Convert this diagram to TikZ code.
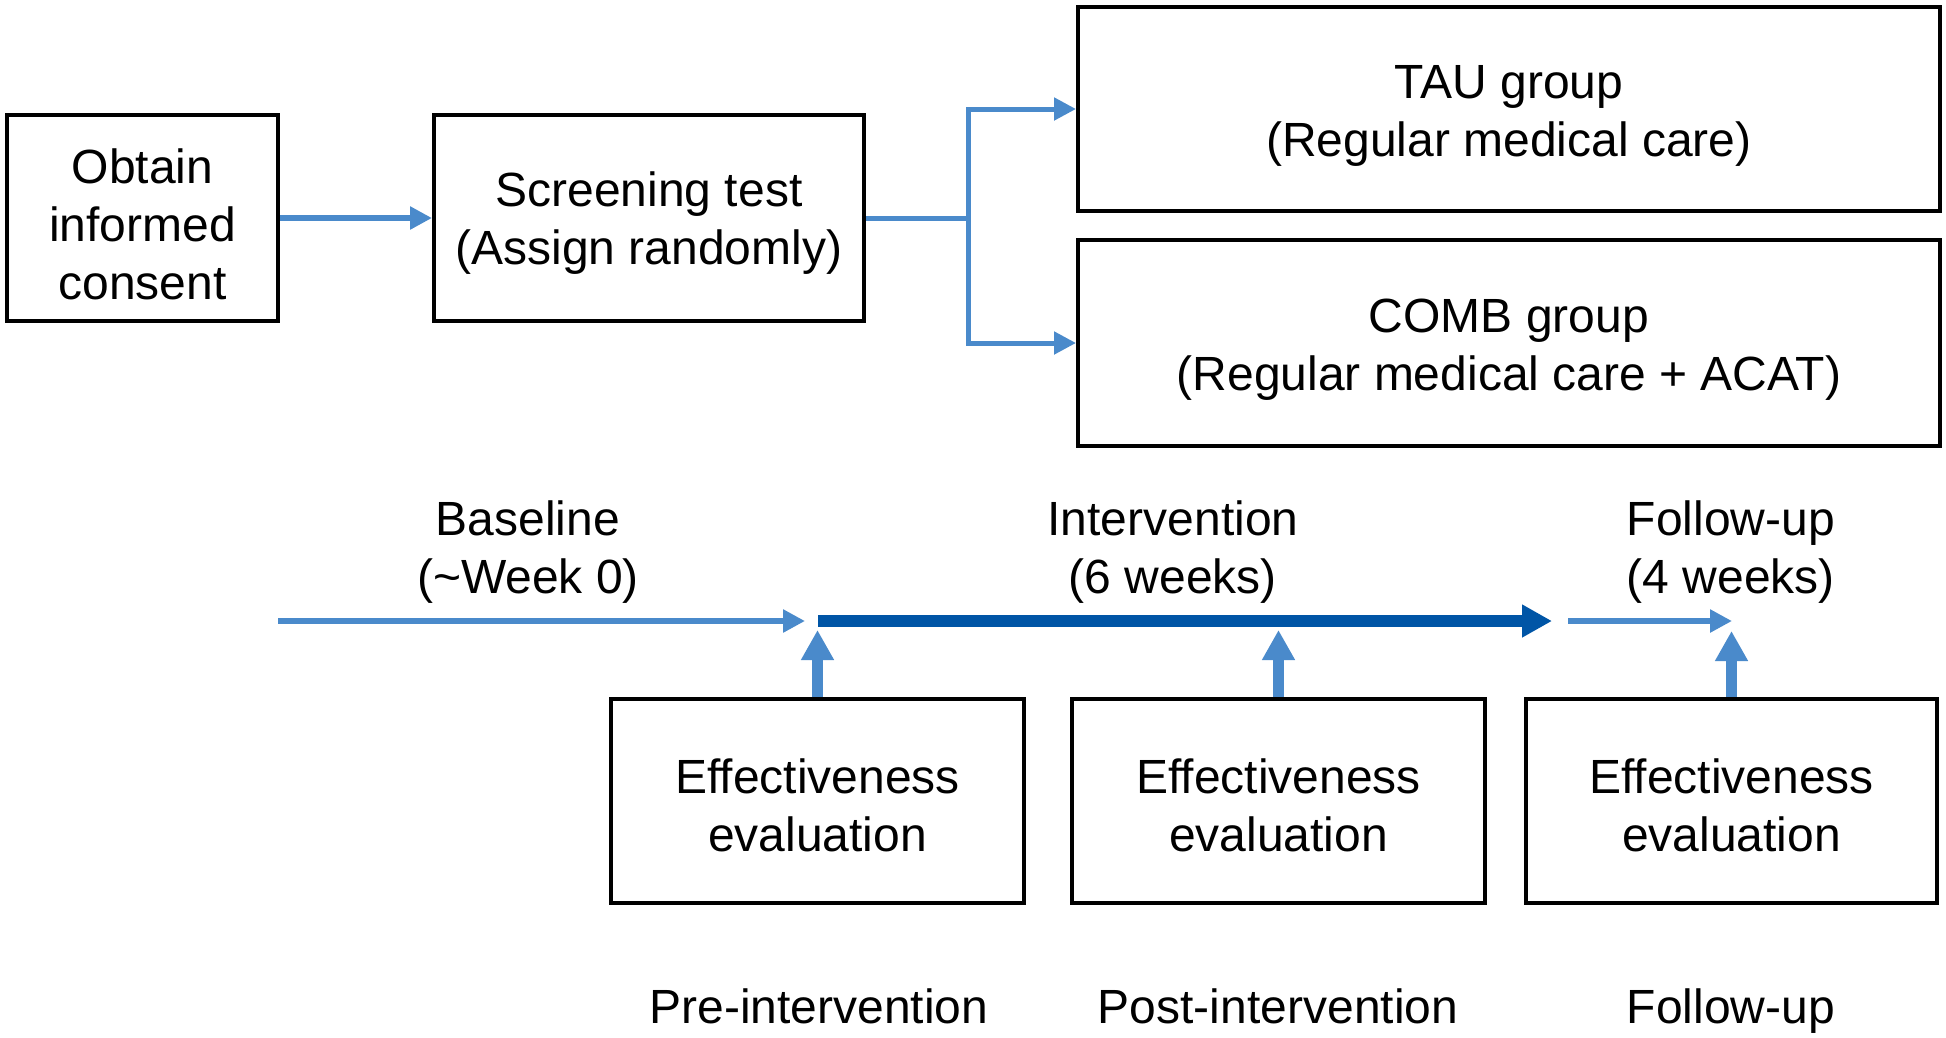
\documentclass[tikz,border=0pt]{standalone}
\usepackage{fontspec}
\setmainfont{Liberation Sans}
\usetikzlibrary{arrows.meta}
\definecolor{lblue}{RGB}{74,138,203}
\definecolor{dblue}{RGB}{0,85,166}
\tikzset{
  box/.style={draw=black, line width=4pt, inner sep=0pt},
  txt/.style={align=center, font=\fontsize{48}{58}\selectfont, inner sep=0pt},
  con/.style={draw=lblue, line width=5pt, -{Triangle[length=22pt,width=22pt]}},
  thinarr/.style={draw=lblue, line width=6pt, -{Triangle[length=22pt,width=22pt]}},
  uparr/.style={draw=lblue, line width=11pt, -{Triangle[length=30pt,width=31pt]}},
  thickarr/.style={draw=dblue, line width=12pt, -{Triangle[length=30pt,width=31pt]}},
}
\begin{document}
\begin{tikzpicture}[x=1pt,y=-1pt]
\useasboundingbox[fill=white] (0,0) rectangle (1946,1037);

% top boxes
\node[box, minimum width=271pt, minimum height=206pt] (obtain) at (142.5,218) {};
\node[txt] (obtaint) at ([yshift=-6pt]obtain.center) {Obtain\\informed\\consent};
\node[box, minimum width=430pt, minimum height=206pt] (screen) at (649,218) {};
\node[txt] (screent) at ([yshift=-5pt]screen.center) {Screening test\\(Assign randomly)};
\node[box, minimum width=862pt, minimum height=204pt] (tau) at (1509,109) {};
\node[txt] (taut) at ([yshift=-7pt]tau.center) {TAU group\\(Regular medical care)};
\node[box, minimum width=862pt, minimum height=206pt] (comb) at (1509,343) {};
\node[txt] (combt) at ([yshift=-7pt]comb.center) {COMB group\\(Regular medical care + ACAT)};

\draw[thinarr] (obtain.east) -- (screen.west);
\coordinate (split) at (968,218);
\draw[draw=lblue, line width=5pt] (screen.east) -- (split);
\draw[con] (split) |- (tau.west);
\draw[con] (split) |- (comb.west);

% timeline labels
\node[txt] (base) at (528,552) {Baseline\\(\textasciitilde Week 0)};
\node[txt] (interv) at (1173,552) {Intervention\\(6 weeks)};
\node[txt] (follow) at (1731,552) {Follow-up\\(4 weeks)};

% timeline arrows
\coordinate (t0) at (278,621);
\coordinate (t1) at (805,621);
\coordinate (t2) at (818,621);
\coordinate (t3) at (1552,621);
\coordinate (t4) at (1568,621);
\coordinate (t5) at (1732,621);
\draw[thinarr] (t0) -- (t1);
\draw[thickarr] (t2) -- (t3);
\draw[thinarr] (t4) -- (t5);

% evaluation boxes
\node[box, minimum width=413pt, minimum height=204pt] (e1) at (817.5,801) {};
\node[txt] (e1t) at ([yshift=-4pt]e1.center) {Effectiveness\\evaluation};
\node[box, minimum width=413pt, minimum height=204pt] (e2) at (1278.5,801) {};
\node[txt] (e2t) at ([yshift=-4pt]e2.center) {Effectiveness\\evaluation};
\node[box, minimum width=411pt, minimum height=204pt] (e3) at (1731.5,801) {};
\node[txt] (e3t) at ([yshift=-4pt]e3.center) {Effectiveness\\evaluation};

\coordinate (u1) at (e1.north |- 0,630);
\coordinate (u2) at (e2.north |- 0,630);
\coordinate (u3) at (e3.north |- 0,631);
\draw[uparr] (e1.north) -- (u1);
\draw[uparr] (e2.north) -- (u2);
\draw[uparr] (e3.north) -- (u3);

% bottom labels
\node[txt, anchor=base] (pre) at (819,1023) {Pre-intervention};
\node[txt, anchor=base] (post) at (1278,1023) {Post-intervention};
\node[txt, anchor=base] (fu) at (1731,1023) {Follow-up};
\end{tikzpicture}
\end{document}
